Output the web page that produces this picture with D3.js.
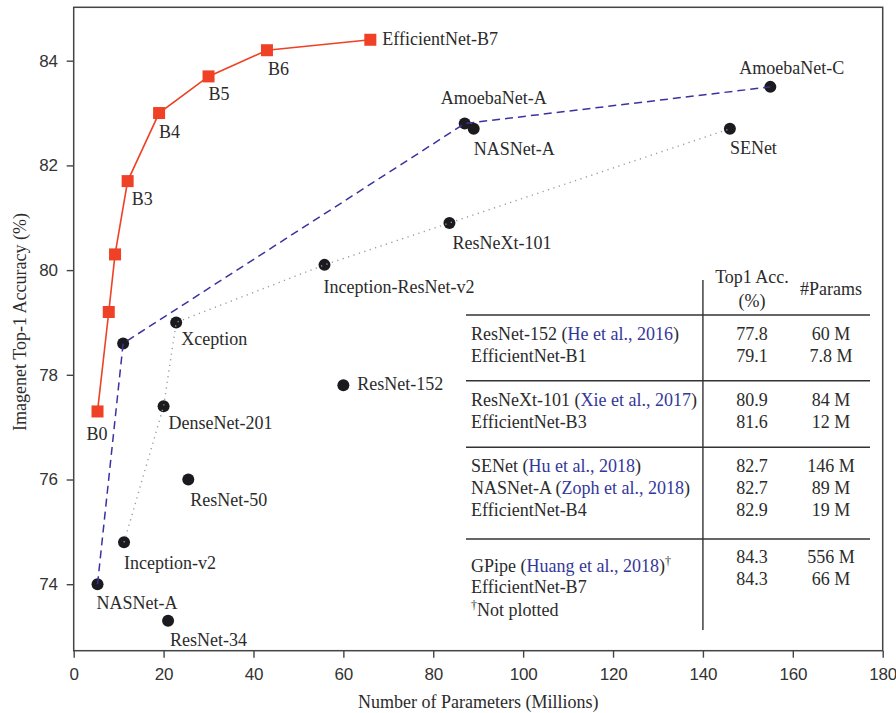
<!DOCTYPE html>
<html lang="en">
<head>
    <meta charset="UTF-8">
    <title>EfficientNet accuracy vs params</title>
    <script src="https://cdnjs.cloudflare.com/ajax/libs/d3/7.8.0/d3.min.js"></script>
    <style>
        body { margin: 0; background: #fff; }
        svg { display: block; font-family: "Liberation Serif", "DejaVu Serif", serif; }
        .tick text { font-size: 17px; fill: #333; letter-spacing: -0.2px; }
        .lbl { font-size: 18px; fill: #2b2b2b; }
        .cite { fill: #34379a; }
        .dag { fill: #2b2b2b; }
    </style>
</head>
<body>

    <svg id="viz" width="896" height="713"></svg>

    <script>
        // EfficientNet family (red squares)
        const effNames  = ["B0", "", "", "B3", "B4", "B5", "B6", "EfficientNet-B7"];
        const effParams = [5.3, 7.8, 9.2, 12, 19, 30, 43, 66];
        const effAcc    = [77.3, 79.2, 80.3, 81.7, 83.0, 83.7, 84.2, 84.4];

        // NASNet / AmoebaNet (dashed)
        const nasNames  = ["NASNet-A", "", "AmoebaNet-A", "AmoebaNet-C"];
        const nasParams = [5.3, 11, 87, 155];
        const nasAcc    = [74.0, 78.6, 82.8, 83.5];

        // Inception / ResNeXt / SENet (dotted)
        const incNames  = ["Inception-v2", "DenseNet-201", "Xception", "Inception-ResNet-v2", "ResNeXt-101", "SENet"];
        const incParams = [11.2, 20, 22.8, 55.8, 83.6, 146];
        const incAcc    = [74.8, 77.4, 79.0, 80.1, 80.9, 82.7];

        // unconnected points
        const otherNames  = ["ResNet-34", "ResNet-50", "ResNet-152", "NASNet-A"];
        const otherParams = [21, 25.5, 60, 89];
        const otherAcc    = [73.3, 76.0, 77.8, 82.7];

        const xTicks = [0, 20, 40, 60, 80, 100, 120, 140, 160, 180];
        const yTicks = [74, 76, 78, 80, 82, 84];

        // comparison table
        const tabNames  = [["ResNet-152", "EfficientNet-B1"],
                           ["ResNeXt-101", "EfficientNet-B3"],
                           ["SENet", "NASNet-A", "EfficientNet-B4"],
                           ["GPipe", "EfficientNet-B7"]];
        const tabCites  = [["He et al., 2016", ""],
                           ["Xie et al., 2017", ""],
                           ["Hu et al., 2018", "Zoph et al., 2018", ""],
                           ["Huang et al., 2018", ""]];
        const tabAcc    = [["77.8", "79.1"], ["80.9", "81.6"], ["82.7", "82.7", "82.9"], ["84.3", "84.3"]];
        const tabParams = [["60 M", "7.8 M"], ["84 M", "12 M"], ["146 M", "89 M", "19 M"], ["556 M", "66 M"]];

        // label placement (pixel offsets from the marker)
        const effOff   = [[-11, 29], [0, 0], [0, 0], [4, 24], [0, 25], [0, 24], [1, 25], [12, 5]];
        const nasOff   = [[-1, 25], [0, 0], [-24, -20], [-31, -13]];
        const incOff   = [[0, 27], [5, 23], [5, 23], [-1, 28], [3, 26], [0, 25]];
        const otherOff = [[2, 25], [2, 26], [14, 5], [0, 26]];

        const svg = d3.select('#viz');
        const x = d3.scaleLinear().domain([0, 180]).range([73.7, 882.7]);
        const y = d3.scaleLinear().domain([72.73, 85.02]).range([650.7, 7.3]);

        const red = "#ee4125", blue = "#3a32a0", dark = "#1b1b1f";

        // axes
        svg.append("g")
            .attr("transform", "translate(0," + y.range()[0] + ")")
            .call(d3.axisBottom(x).tickValues(xTicks).tickSize(7).tickPadding(10).tickFormat(d3.format("d")))
            .call(g => g.select(".domain").remove())
            .selectAll("line").attr("stroke", "#444").attr("stroke-width", 1.4);
        svg.append("g")
            .attr("transform", "translate(" + x.range()[0] + ",0)")
            .call(d3.axisLeft(y).tickValues(yTicks).tickSize(7).tickPadding(9).tickFormat(d3.format("d")))
            .call(g => g.select(".domain").remove())
            .selectAll("line").attr("stroke", "#444").attr("stroke-width", 1.4);
        svg.selectAll(".tick text").attr("font-family", null).attr("font-size", null);

        svg.append("rect")
            .attr("x", x.range()[0]).attr("y", y.range()[1])
            .attr("width", x.range()[1] - x.range()[0])
            .attr("height", y.range()[0] - y.range()[1])
            .attr("fill", "none").attr("stroke", "#444").attr("stroke-width", 1.5);

        svg.append("text").attr("class", "lbl")
            .attr("x", (x.range()[0] + x.range()[1]) / 2).attr("y", 708)
            .attr("text-anchor", "middle")
            .text("Number of Parameters (Millions)");
        svg.append("text").attr("class", "lbl")
            .attr("transform", "translate(26,322) rotate(-90)")
            .attr("text-anchor", "middle")
            .text("Imagenet Top-1 Accuracy (%)");

        const line = d3.line().x(d => x(d[0])).y(d => y(d[1]));
        const pts = (px, py) => px.map((v, i) => [v, py[i]]);

        // markers
        function circles(px, py) {
            svg.append("g").selectAll("circle").data(pts(px, py)).join("circle")
                .attr("cx", d => x(d[0])).attr("cy", d => y(d[1]))
                .attr("r", 6).attr("fill", dark);
        }
        circles(otherParams.slice(0, 3), otherAcc.slice(0, 3));
        circles(incParams, incAcc);
        circles(nasParams, nasAcc);
        circles(otherParams.slice(3), otherAcc.slice(3));

        // connecting lines drawn over the dots
        svg.append("path").datum(pts(incParams, incAcc)).attr("d", line)
            .attr("fill", "none").attr("stroke", "#9a9a9a").attr("stroke-width", 1.4)
            .attr("stroke-dasharray", "1.2 4.5");
        svg.append("path").datum(pts(nasParams, nasAcc)).attr("d", line)
            .attr("fill", "none").attr("stroke", blue).attr("stroke-width", 1.5)
            .attr("stroke-dasharray", "8 5");

        svg.append("path").datum(pts(effParams, effAcc)).attr("d", line)
            .attr("fill", "none").attr("stroke", red).attr("stroke-width", 1.6);
        svg.append("g").selectAll("rect").data(pts(effParams, effAcc)).join("rect")
            .attr("x", d => x(d[0]) - 6).attr("y", d => y(d[1]) - 6)
            .attr("width", 12).attr("height", 12).attr("fill", red);

        // point labels
        function labels(names, px, py, off) {
            svg.append("g").selectAll("text").data(names).join("text")
                .attr("class", "lbl")
                .attr("x", (d, i) => x(px[i]) + off[i][0])
                .attr("y", (d, i) => y(py[i]) + off[i][1])
                .text(d => d);
        }
        labels(effNames, effParams, effAcc, effOff);
        labels(nasNames, nasParams, nasAcc, nasOff);
        labels(incNames, incParams, incAcc, incOff);
        labels(otherNames, otherParams, otherAcc, otherOff);

        // table
        const tab = svg.append("g");
        const tx0 = 466, tx1 = 870, nameX = 471, accX = 752, parX = 831;
        const ruleY = [315, 380.7, 447.3, 539];
        const nameY = [[340, 361.7], [405.7, 427.7], [471.7, 494.3, 516], [571.7, 593.3]];
        const numY  = [[340, 361.7], [405.7, 427.7], [471.7, 494.3, 516], [563.3, 585]];

        tab.append("line").attr("x1", x(140)).attr("x2", x(140)).attr("y1", 280).attr("y2", 630)
            .attr("stroke", "#333").attr("stroke-width", 1.4);
        tab.selectAll("line.rule").data(ruleY).join("line").attr("class", "rule")
            .attr("x1", tx0).attr("x2", tx1).attr("y1", d => d).attr("y2", d => d)
            .attr("stroke", "#333").attr("stroke-width", 1.4);

        tab.append("text").attr("class", "lbl").attr("x", accX).attr("y", 283.3)
            .attr("text-anchor", "middle").text("Top1 Acc.");
        tab.append("text").attr("class", "lbl").attr("x", accX).attr("y", 306.7)
            .attr("text-anchor", "middle").text("(%)");
        tab.append("text").attr("class", "lbl").attr("x", parX).attr("y", 295)
            .attr("text-anchor", "middle").text("#Params");

        tabNames.forEach((grp, g) => {
            grp.forEach((nm, r) => {
                const t = tab.append("text").attr("class", "lbl").attr("x", nameX).attr("y", nameY[g][r]);
                t.append("tspan").text(nm);
                const c = tabCites[g][r];
                if (c) {
                    t.append("tspan").text(" (");
                    t.append("tspan").attr("class", "cite").text(c);
                    t.append("tspan").text(")");
                    if (g === 3) t.append("tspan").attr("class", "dag").attr("dy", -7).attr("font-size", 12).text("\u2020");
                }
                tab.append("text").attr("class", "lbl").attr("x", accX).attr("y", numY[g][r])
                    .attr("text-anchor", "middle").text(tabAcc[g][r]);
                tab.append("text").attr("class", "lbl").attr("x", parX).attr("y", numY[g][r])
                    .attr("text-anchor", "middle").text(tabParams[g][r]);
            });
        });
        const np = tab.append("text").attr("class", "lbl").attr("x", nameX).attr("y", 616);
        np.append("tspan").attr("class", "dag").attr("dy", -7).attr("font-size", 12).text("\u2020");
        np.append("tspan").attr("dy", 7).text("Not plotted");
    </script>
</body>
</html>
